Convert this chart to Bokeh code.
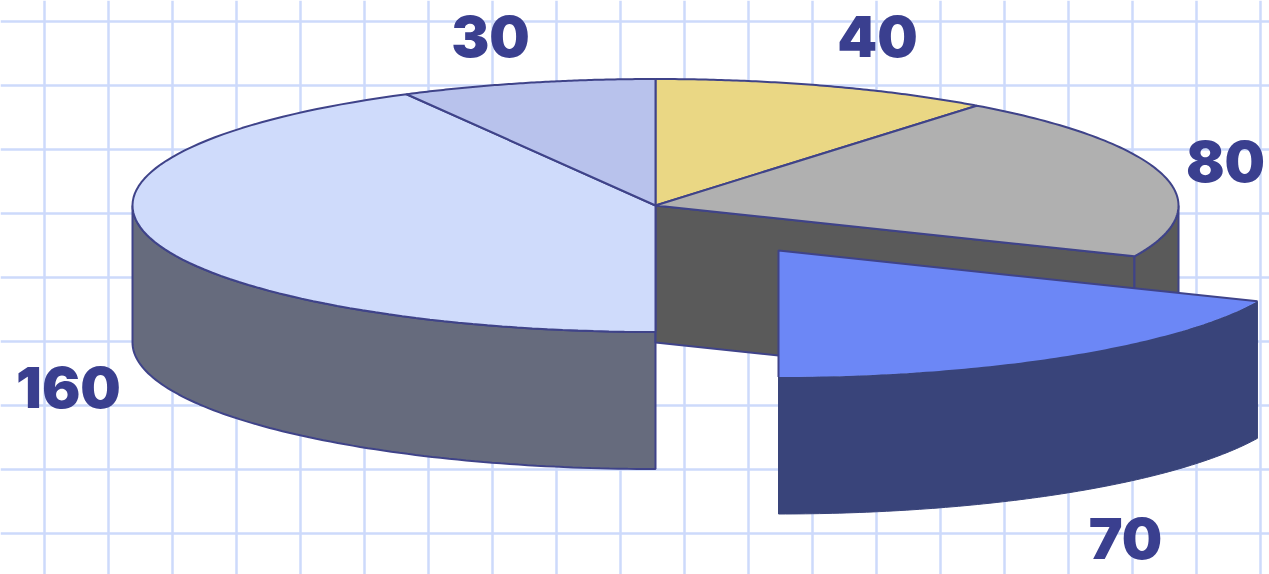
import numpy as np
from bokeh.core.properties import value
from bokeh.embed import file_html
from bokeh.models import FixedTicker, Range1d
from bokeh.plotting import figure
from bokeh.resources import INLINE

# Slices, clockwise from twelve o'clock
slice_values = [40, 80, 70, 160, 30]
slice_labels = ["40", "80", "70", "160", "30"]
top_colors = ["#EAD784", "#B0B0B0", "#6C87F6", "#CFDBFB", "#B8C2EC"]
side_colors = ["#8A7C40", "#5A5A5A", "#39447A", "#666B7D", "#6E7390"]
exploded_slice = 2

label_x = [877, 1225, 1125, 68, 490]
label_y = [36, 161, 538, 387, 36]

grid_x = [44 + 64 * i for i in range(20)]
grid_y = [21 + 64 * i for i in range(9)]

# Projection of the tilted pie on the canvas
CX, CY = 655, 205
RX, RY = 523, 126.5
DEPTH = 137
OFFSET_X, OFFSET_Y = 123, 45
OUTLINE = "#3F4389"
LABEL_COLOR = "#3A3F8F"
GRID_COLOR = "#CDDAFB"


def rim(start, end, cx=CX, cy=CY, n=90):
    a = np.radians(np.linspace(start, end, n))
    return cx + RX * np.sin(a), cy - RY * np.cos(a)


def wall(start, end, cx=CX, cy=CY):
    x, y = rim(start, end, cx, cy)
    return np.concatenate([x, x[::-1]]), np.concatenate([y, y[::-1] + DEPTH])


def sector(start, end, cx=CX, cy=CY):
    x, y = rim(start, end, cx, cy)
    return np.concatenate([[cx], x]), np.concatenate([[cy], y])


edges = np.concatenate([[0], np.cumsum(slice_values)]) * 360 / sum(slice_values)

p = figure(
    width=1269, height=574, output_backend="svg", toolbar_location=None,
    x_range=Range1d(0, 1269), y_range=Range1d(574, 0),
    min_border=0, outline_line_color=None,
)
p.xaxis.visible = False
p.yaxis.visible = False
p.xgrid[0].ticker = FixedTicker(ticks=grid_x)
p.ygrid[0].ticker = FixedTicker(ticks=grid_y)
p.grid.grid_line_color = GRID_COLOR
p.grid.grid_line_width = 2.5

# Outer wall of the large slice, only its front half shows
x, y = wall(180, 270)
p.patch(x, y, fill_color=side_colors[3], line_color=OUTLINE, line_width=2)

# Cut face left open by the pulled-out slice
x, y = rim(edges[2], edges[2], n=1)
p.patch([CX, x[0], x[0], CX], [CY, y[0], y[0] + DEPTH, CY + DEPTH],
        fill_color=side_colors[1], line_color=OUTLINE, line_width=2)

# Outer wall of the grey slice, visible between the right edge and the cut
x, y = wall(90, edges[2])
p.patch(x, y, fill_color=side_colors[1], line_color=OUTLINE, line_width=2)

# Top faces of the slices that stay in place
for i in range(len(slice_values)):
    if i == exploded_slice:
        continue
    x, y = sector(edges[i], edges[i + 1])
    p.patch(x, y, fill_color=top_colors[i], line_color=OUTLINE, line_width=2)

# Pulled-out slice drawn last so it overlaps the grey cut face
ex, ey = CX + OFFSET_X, CY + OFFSET_Y
x, y = wall(edges[exploded_slice], edges[exploded_slice + 1], ex, ey)
p.patch(x, y, fill_color=side_colors[exploded_slice],
        line_color=side_colors[exploded_slice], line_width=1)
x, y = sector(edges[exploded_slice], edges[exploded_slice + 1], ex, ey)
p.patch(x, y, fill_color=top_colors[exploded_slice], line_color=None)
x, y = rim(edges[exploded_slice], edges[exploded_slice], ex, ey, n=1)
p.line([x[0], ex, ex], [y[0], ey, ey + RY], line_color=OUTLINE, line_width=2)

p.text(
    label_x, label_y, text=slice_labels, text_color=LABEL_COLOR,
    text_font_size="57px", text_font_style="bold",
    text_align="center", text_baseline="middle",
    text_font=value("Inter Black"),
)

open("out.html", "w").write(file_html(p, INLINE))
